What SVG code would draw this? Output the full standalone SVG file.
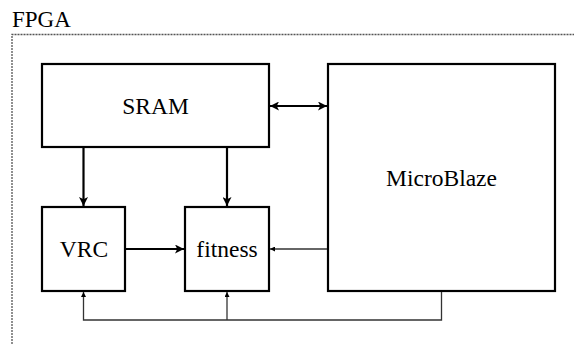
<svg xmlns="http://www.w3.org/2000/svg" width="574" height="344" viewBox="0 0 574 344">
<defs>
<style>
.box{fill:#fff;stroke:#000;stroke-width:2.2}
.lbl{font-family:"Liberation Serif","Times New Roman",serif;font-size:23.5px;fill:#000;text-anchor:middle}
.thick{fill:none;stroke:#000;stroke-width:2.2}
.thin{fill:none;stroke:#333;stroke-width:1.3}
</style>
<marker id="ah" viewBox="0 0 10 10" refX="10" refY="5" markerWidth="10" markerHeight="9" markerUnits="userSpaceOnUse" orient="auto-start-reverse"><path d="M0,0 L10,5 L0,10 L2.5,5 z" fill="#000"/></marker>
<marker id="as" viewBox="0 0 10 10" refX="10" refY="5" markerWidth="6" markerHeight="5" markerUnits="userSpaceOnUse" orient="auto"><path d="M0,0 L10,5 L0,10 z" fill="#000"/></marker>
</defs>
<g id="fpga">
<text x="12" y="26.5" font-family="Liberation Serif, serif" font-size="23" fill="#000">FPGA</text>
<path d="M12,344 V34.5 H574" fill="none" stroke="#555" stroke-width="1.3" stroke-dasharray="2,1"/>
</g>
<g id="sram"><rect class="box" x="42" y="64" width="227" height="83"/><text class="lbl" x="155.5" y="114">SRAM</text></g>
<g id="microblaze"><rect class="box" x="328" y="64" width="227" height="227"/><text class="lbl" x="441.5" y="186">MicroBlaze</text></g>
<g id="vrc"><rect class="box" x="42" y="207" width="83" height="84"/><text class="lbl" x="84" y="257">VRC</text></g>
<g id="fitness"><rect class="box" x="185" y="207" width="84" height="84"/><text class="lbl" x="227" y="257">fitness</text></g>
<g id="connectors">
<path class="thick" d="M270,106 H327" marker-start="url(#ah)" marker-end="url(#ah)"/>
<path class="thick" d="M83.5,148 V206" marker-end="url(#ah)"/>
<path class="thick" d="M227,148 V206" marker-end="url(#ah)"/>
<path class="thick" d="M126,249 H184" marker-end="url(#ah)"/>
<path class="thin" d="M327,249 H270" marker-end="url(#as)"/>
<path class="thin" d="M441.5,292 V320 H83.5 V292" marker-end="url(#as)"/>
<path class="thin" d="M227,320 V292" marker-end="url(#as)"/>
</g>
</svg>
